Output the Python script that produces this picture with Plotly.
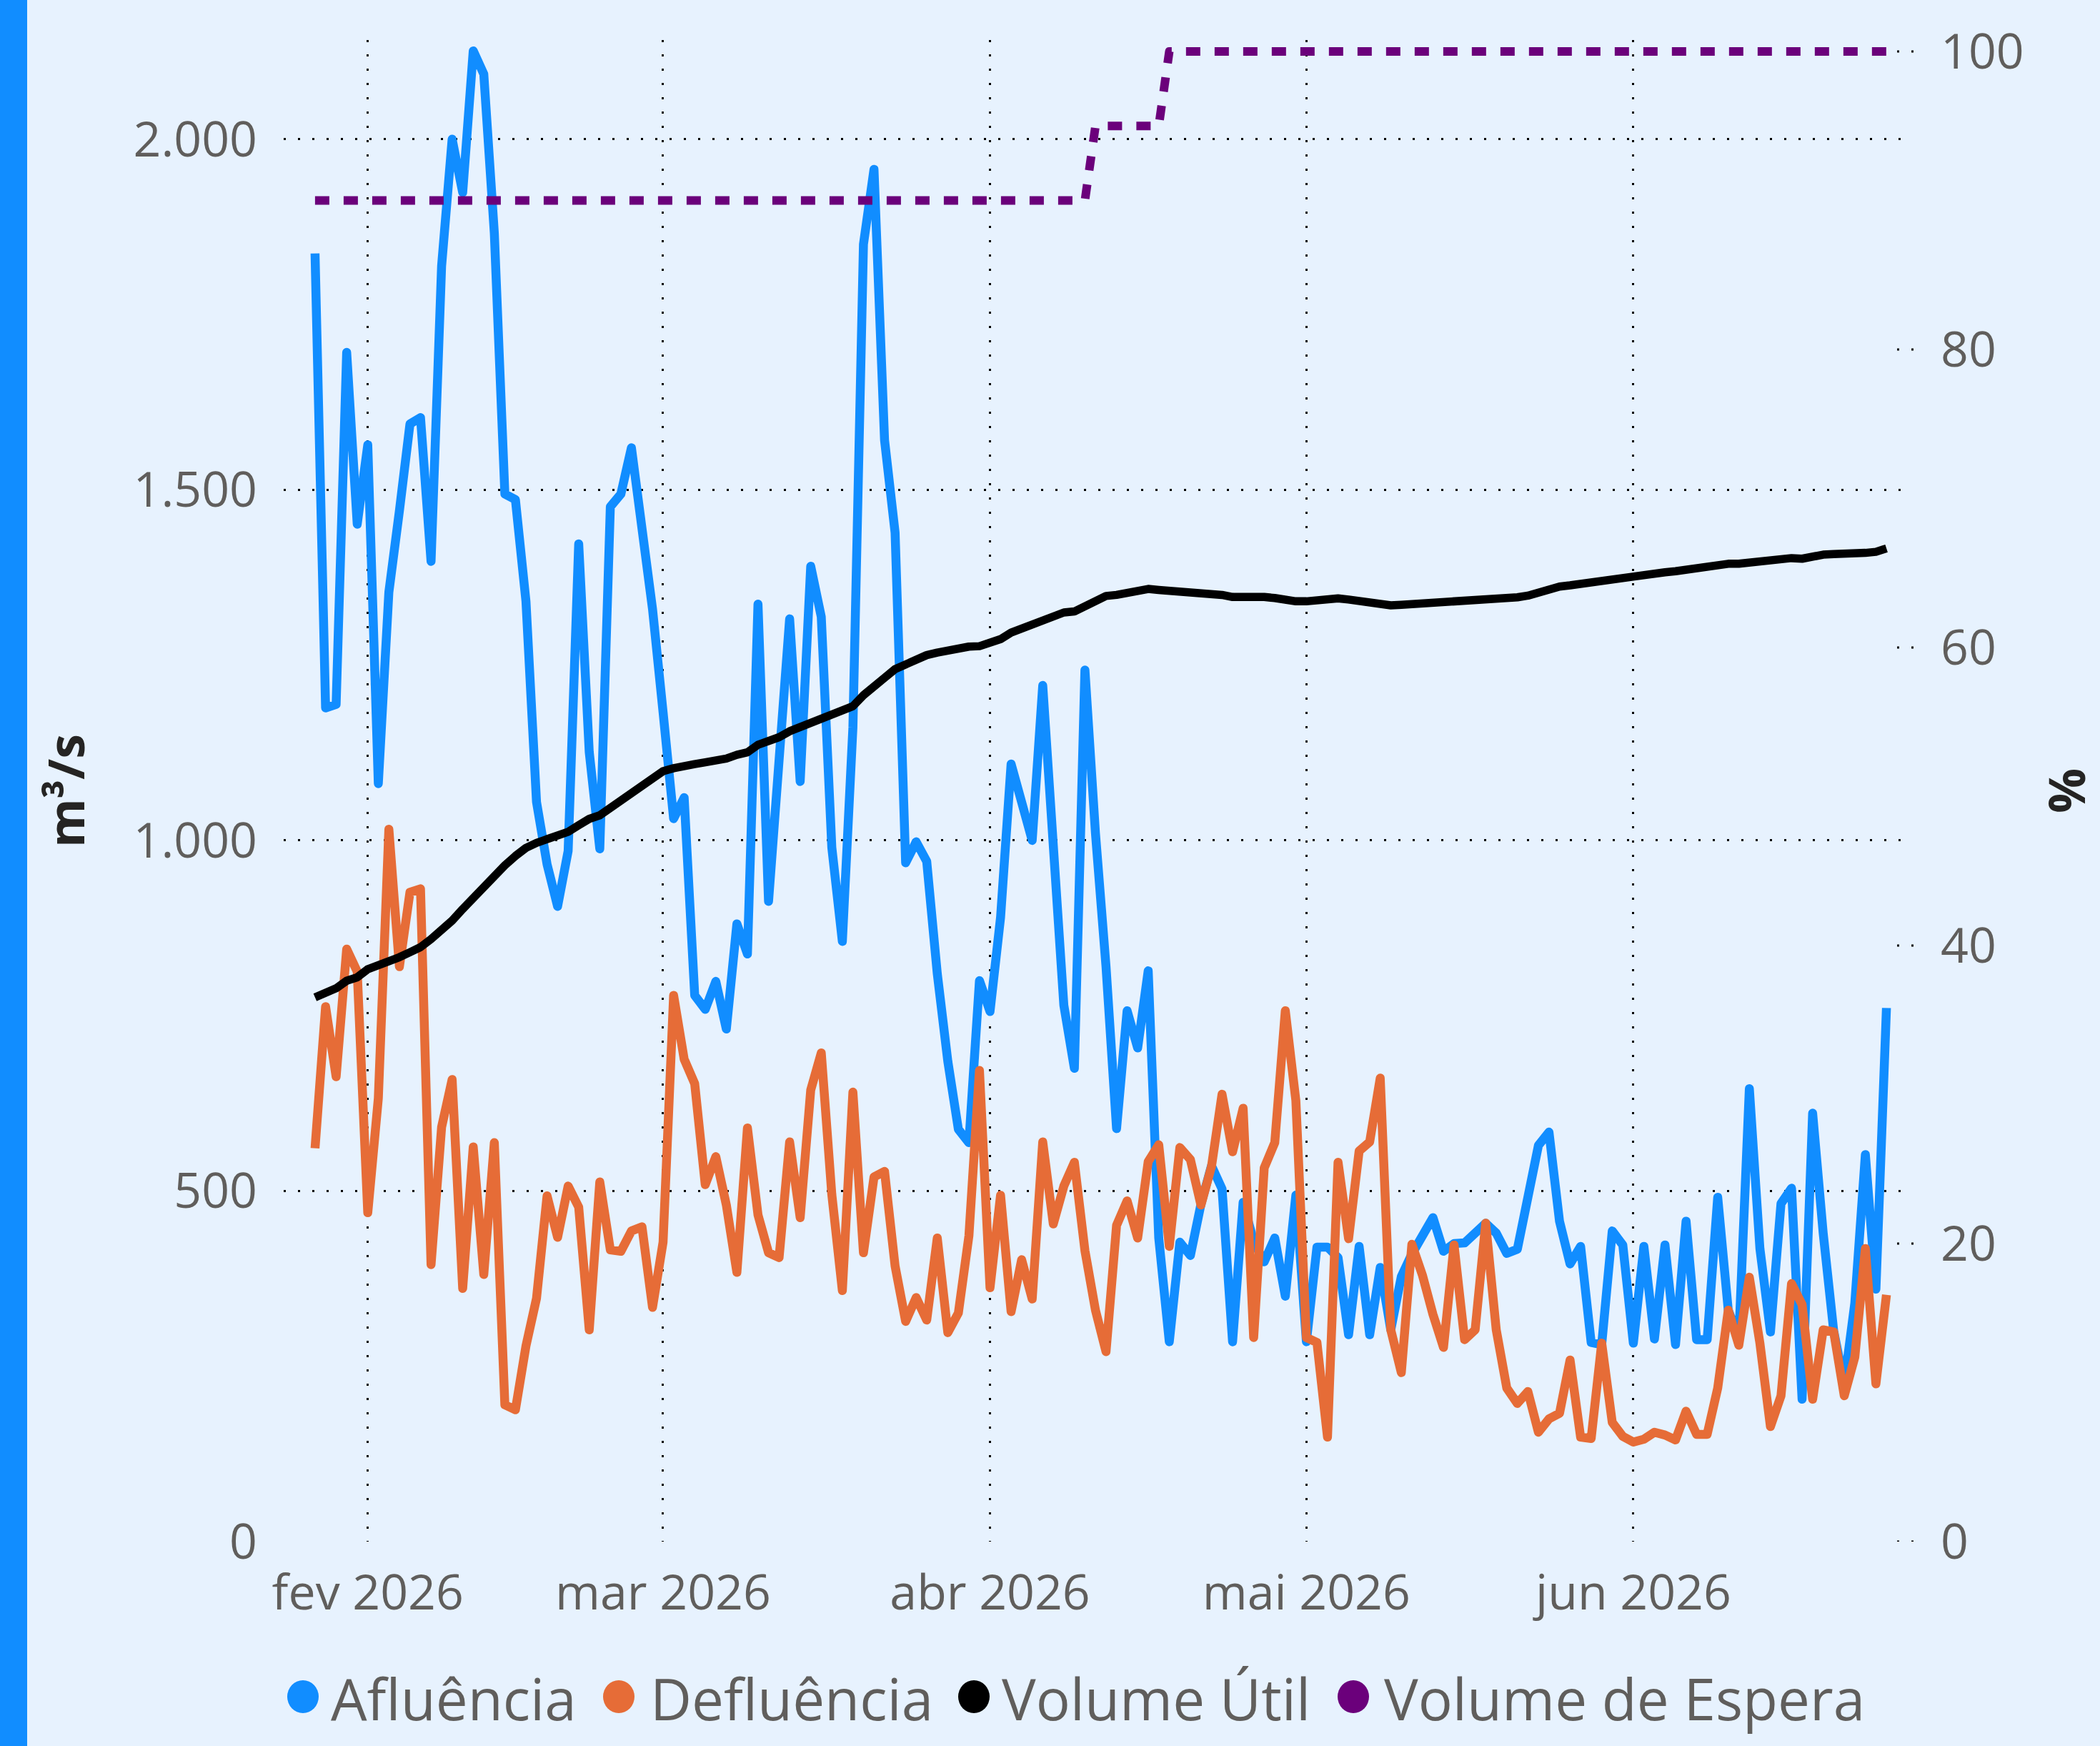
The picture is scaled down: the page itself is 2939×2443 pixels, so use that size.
import pandas as pd
import plotly.graph_objects as go

# ---------------- data ----------------
dates = pd.date_range("2026-01-27", periods=150, freq="D")

afluencia = [
    1837, 1189, 1194, 1696, 1451, 1564, 1081, 1354, 1470, 1594,
    1603, 1398, 1819, 2000, 1924, 2126, 2093, 1866, 1494, 1486,
    1341, 1055, 966, 906, 985, 1423, 1126, 988, 1476, 1494,
    1560, 1445, 1330, 1183, 1031, 1061, 779, 759, 799, 731,
    881, 838, 1337, 913, 1110, 1316, 1084, 1391, 1319, 990,
    856, 1161, 1850, 1957, 1571, 1439, 968, 998, 970, 810,
    685, 588, 569, 800, 756, 890, 1109, 1054, 1000, 1221,
    975, 765, 675, 1243, 1010, 820, 589, 757, 704, 814,
    433, 285, 427, 408, 481, 536, 503, 285, 484, 428,
    399, 433, 350, 494, 285, 420, 420, 405, 295, 421,
    295, 391, 302, 378, 410, 435, 462, 414, 425, 426,
    440, 454, 440, 411, 417, 490, 565, 584, 457, 396,
    421, 284, 281, 443, 423, 283, 421, 289, 423, 281,
    457, 288, 288, 491, 330, 290, 646, 418, 299, 482,
    504, 203, 611, 440, 300, 225, 340, 552, 360, 761,
]

defluencia = [
    561, 763, 663, 845, 813, 469, 632, 1016, 820, 926,
    931, 395, 591, 659, 361, 563, 381, 569, 195, 188,
    279, 347, 493, 434, 507, 477, 302, 513, 416, 414,
    443, 449, 334, 427, 779, 688, 653, 509, 549, 480,
    384, 590, 466, 412, 405, 570, 462, 644, 697, 495,
    358, 641, 412, 520, 528, 393, 314, 348, 316, 433,
    298, 326, 436, 672, 362, 494, 328, 402, 346, 570,
    453, 507, 541, 415, 330, 271, 451, 486, 433, 542,
    566, 421, 562, 545, 480, 535, 638, 556, 618, 291,
    533, 569, 757, 629, 291, 284, 149, 541, 432, 557,
    570, 661, 302, 241, 424, 380, 324, 277, 423, 288,
    302, 454, 302, 219, 197, 214, 156, 175, 183, 259,
    149, 147, 283, 170, 150, 142, 146, 156, 152, 145,
    186, 153, 153, 219, 330, 280, 377, 283, 164, 208,
    368, 338, 203, 302, 299, 208, 263, 418, 225, 352,
]

volume_util = [
    36.52, 36.79, 37.13, 37.64, 37.87, 38.41, 38.65, 38.88, 39.22, 39.55,
    39.89, 40.43, 41.00, 41.67, 42.45, 43.19, 44.03, 44.70, 45.38, 46.01,
    46.55, 46.89, 47.16, 47.39, 47.63, 48.07, 48.50, 48.74, 49.25, 49.75,
    50.25, 50.76, 51.26, 51.70, 51.90, 52.10, 52.18, 52.30, 52.40, 52.55,
    52.80, 52.97, 53.47, 53.71, 53.98, 54.38, 54.65, 54.99, 55.32, 55.54,
    55.81, 56.06, 56.80, 57.47, 57.97, 58.55, 58.88, 59.15, 59.49, 59.66,
    59.82, 59.99, 60.06, 60.09, 60.33, 60.56, 61.00, 61.27, 61.57, 61.84,
    62.18, 62.35, 62.42, 62.79, 63.19, 63.46, 63.53, 63.66, 63.80, 63.93,
    63.86, 63.80, 63.73, 63.66, 63.66, 63.66, 63.53, 63.39, 63.39, 63.46,
    63.39, 63.32, 63.15, 63.10, 63.10, 63.16, 63.30, 63.30, 63.22, 63.12,
    63.03, 62.95, 62.83, 62.87, 62.91, 62.91, 62.95, 63.02, 63.02, 63.06,
    63.14, 63.18, 63.18, 63.25, 63.37, 63.48, 63.71, 63.98, 64.09, 64.17,
    64.28, 64.36, 64.40, 64.51, 64.63, 64.74, 64.86, 64.93, 65.05, 65.12,
    65.24, 65.35, 65.39, 65.51, 65.62, 65.62, 65.70, 65.77, 65.85, 65.96,
    66.00, 65.96, 66.12, 66.23, 66.27, 66.27, 66.31, 66.35, 66.42, 66.65,
]

volume_espera = [
    90, 90, 90, 90, 90, 90, 90, 90, 90, 90,
    90, 90, 90, 90, 90, 90, 90, 90, 90, 90,
    90, 90, 90, 90, 90, 90, 90, 90, 90, 90,
    90, 90, 90, 90, 90, 90, 90, 90, 90, 90,
    90, 90, 90, 90, 90, 90, 90, 90, 90, 90,
    90, 90, 90, 90, 90, 90, 90, 90, 90, 90,
    90, 90, 90, 90, 90, 90, 90, 90, 90, 90,
    90, 90, 90, 90, 95, 95, 95, 95, 95, 95,
    95, 100, 100, 100, 100, 100, 100, 100, 100, 100,
    100, 100, 100, 100, 100, 100, 100, 100, 100, 100,
    100, 100, 100, 100, 100, 100, 100, 100, 100, 100,
    100, 100, 100, 100, 100, 100, 100, 100, 100, 100,
    100, 100, 100, 100, 100, 100, 100, 100, 100, 100,
    100, 100, 100, 100, 100, 100, 100, 100, 100, 100,
    100, 100, 100, 100, 100, 100, 100, 100, 100, 100,
]

series_names = ["Afluência", "Defluência", "Volume Útil", "Volume de Espera"]
series_colors = ["#118DFF", "#E66C37", "#000000", "#6B007B"]

month_tickvals = ["2026-02-01", "2026-03-01", "2026-04-01", "2026-05-01", "2026-06-01"]
month_ticktext = ["fev 2026", "mar 2026", "abr 2026", "mai 2026", "jun 2026"]
left_tickvals = [0, 500, 1000, 1500, 2000]
right_tickvals = [0, 20, 40, 60, 80, 100]

left_title = "m³/s"
right_title = "%"

# ---------------- layout geometry ----------------
W, H = 2939, 2443
L, R, T, B = 397, 278, 56, 286
PW, PH = W - L - R, H - T - B
BOTTOM = T + PH            # pixel row of the zero line (2157)

# pixel scale of the two value axes (zero at BOTTOM)
PX_PER_M3S = 0.9811
PX_PER_PCT = 20.85
left_top = PH / PX_PER_M3S
right_top = PH / PX_PER_PCT

BG = "#E7F2FE"
TXT = "#605E5C"
TITLE = "#252423"
FONT = "Open Sans"
GRID_DASH = "3px,17px"


def px_x(px):
    return (px - L) / PW


def px_y(py):
    return (BOTTOM - py) / PH


# x-range: month start gridline of Feb at pixel 514.7, 14.76 px per day
px_per_day = 14.76
feb1 = pd.Timestamp("2026-02-01")
x_start = feb1 - pd.Timedelta(days=(514.7 - L) / px_per_day)
x_end = feb1 + pd.Timedelta(days=(L + PW - 514.7) / px_per_day)

fig = go.Figure()
fig.add_trace(go.Scatter(x=dates, y=afluencia, name=series_names[0], mode="lines",
                         line=dict(color=series_colors[0], width=12.5), yaxis="y"))
fig.add_trace(go.Scatter(x=dates, y=defluencia, name=series_names[1], mode="lines",
                         line=dict(color=series_colors[1], width=12.5), yaxis="y"))
fig.add_trace(go.Scatter(x=dates, y=volume_util, name=series_names[2], mode="lines",
                         line=dict(color=series_colors[2], width=11.5), yaxis="y2"))
fig.add_trace(go.Scatter(x=dates, y=volume_espera, name=series_names[3], mode="lines",
                         line=dict(color=series_colors[3], width=12, dash="20px,20px"),
                         yaxis="y2"))

shapes = []
# accent bar on the left edge
shapes.append(dict(type="rect", xref="paper", yref="paper",
                   x0=px_x(0), x1=px_x(38), y0=px_y(H), y1=px_y(0),
                   fillcolor="#118DFF", line=dict(width=0), layer="below"))
# short dotted tick stubs for the right axis
for v in right_tickvals:
    shapes.append(dict(type="line", xref="paper", yref="y2",
                       x0=px_x(2655), x1=px_x(2681), y0=v, y1=v,
                       line=dict(color="#000000", width=3, dash=GRID_DASH)))

# manual legend (large round markers)
legend_circle_cx = [424, 866, 1363, 1894]
legend_text_x = [461, 908, 1400, 1935]
legend_cy = 2374
annotations = []
for name, col, cx, tx in zip(series_names, series_colors, legend_circle_cx, legend_text_x):
    shapes.append(dict(type="circle", xref="paper", yref="paper",
                       x0=px_x(cx - 22), x1=px_x(cx + 22),
                       y0=px_y(legend_cy + 23), y1=px_y(legend_cy - 23),
                       fillcolor=col, line=dict(width=0)))
    annotations.append(dict(text=name, xref="paper", yref="paper",
                            x=px_x(tx), y=px_y(legend_cy + 1), xanchor="left",
                            yanchor="middle", showarrow=False,
                            font=dict(family=FONT, size=80, color=TXT)))

fig.update_layout(
    width=W, height=H, autosize=False,
    margin=dict(l=L, r=R, t=T, b=B, pad=0),
    paper_bgcolor=BG, plot_bgcolor=BG,
    font=dict(family=FONT, color=TXT),
    separators=",.",
    showlegend=False,
    shapes=shapes,
    annotations=annotations,
    xaxis=dict(
        type="date",
        range=[x_start.strftime("%Y-%m-%d %H:%M:%S"), x_end.strftime("%Y-%m-%d %H:%M:%S")],
        tickmode="array", tickvals=month_tickvals, ticktext=month_ticktext,
        showgrid=True, gridcolor="#000000", gridwidth=3, griddash=GRID_DASH,
        zeroline=False, showline=False, ticks="",
        tickfont=dict(family=FONT, size=68, color=TXT),
        ticklabelstandoff=26,
    ),
    yaxis=dict(
        range=[0, left_top],
        tickmode="array", tickvals=left_tickvals,
        separatethousands=True,
        showgrid=True, gridcolor="#000000", gridwidth=3, griddash=GRID_DASH,
        zeroline=False, showline=False, ticks="",
        tickfont=dict(family=FONT, size=68, color=TXT),
        ticklabelstandoff=36,
        title=dict(text=left_title, standoff=45,
                   font=dict(family=FONT, size=70, color=TITLE, weight="bold")),
    ),
    yaxis2=dict(
        overlaying="y", side="right",
        range=[0, right_top],
        tickmode="array", tickvals=right_tickvals,
        showgrid=False, zeroline=False, showline=False, ticks="",
        tickfont=dict(family=FONT, size=68, color=TXT),
        ticklabelstandoff=54,
        title=dict(text=right_title, standoff=38,
                   font=dict(family=FONT, size=70, color=TITLE, weight="bold")),
    ),
)

post = (
    "document.body.style.margin='0';"
    "document.body.style.overflow='hidden';"
    "var s=document.createElement('style');"
    "s.textContent='.scatterlayer .js-line{stroke-linejoin:round;}';"
    "document.head.appendChild(s);"
)
fig.write_html("out.html", config={"displayModeBar": False}, post_script=post)
